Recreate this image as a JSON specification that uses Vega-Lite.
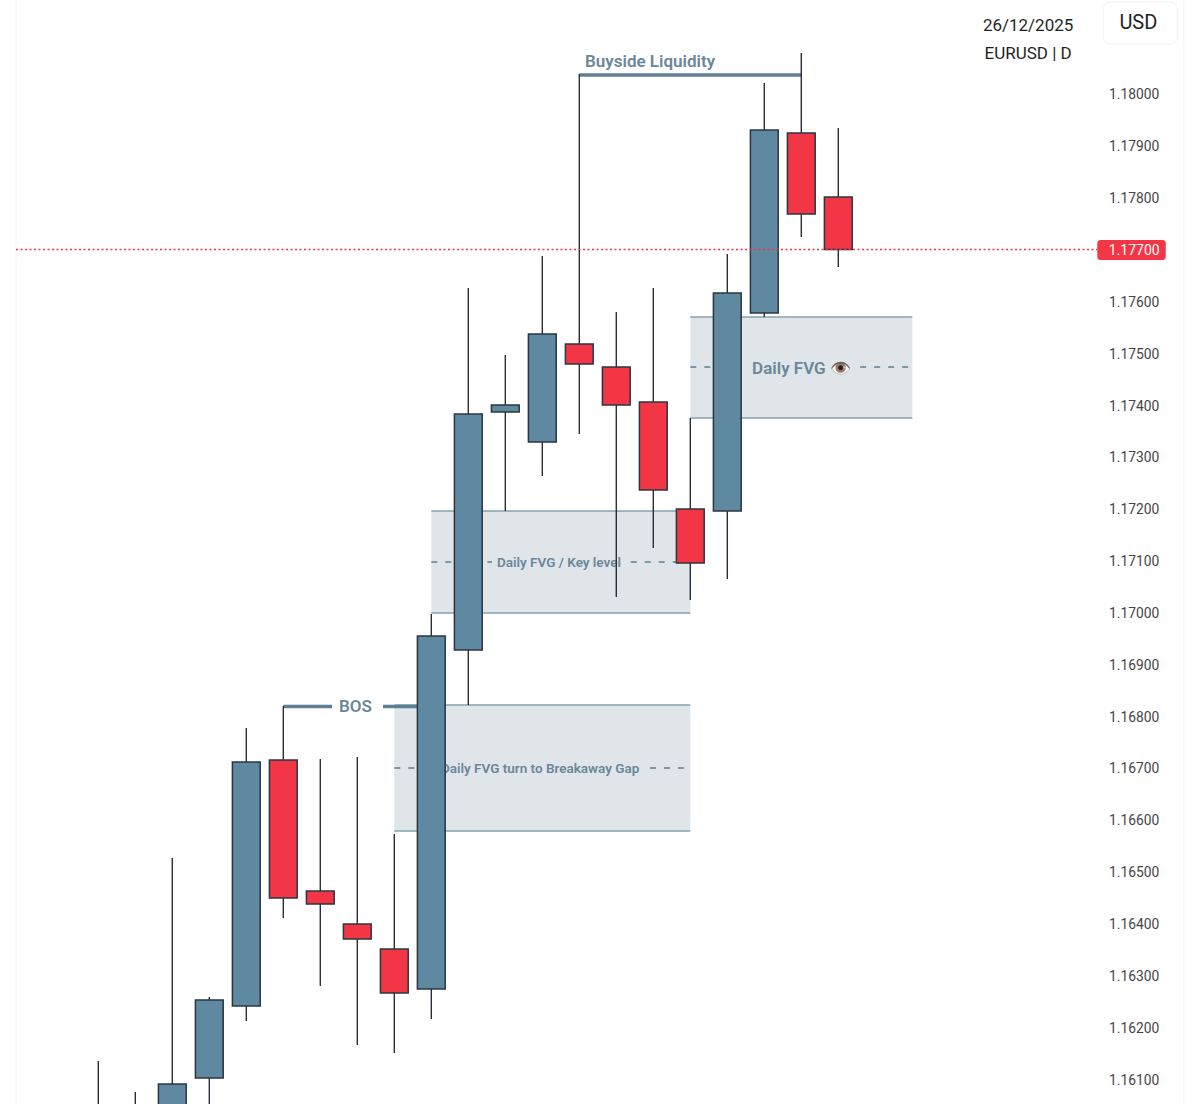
{
"$schema":"https://vega.github.io/schema/vega-lite/v6.json",
"width":1200,"height":1104,"padding":0,"autosize":"none","background":"#ffffff",
"config":{"view":{"stroke":null},"font":"Roboto"},
"datasets":{
"candles":[
{"i":0,"open":1.1604,"close":1.1600,"high":1.161347,"low":1.1600,"dir":"down"},
{"i":1,"open":1.1604,"close":1.1600,"high":1.160749,"low":1.1600,"dir":"down"},
{"i":2,"open":1.1600,"close":1.160904,"high":1.165263,"low":1.1600,"dir":"up"},
{"i":3,"open":1.161019,"close":1.162524,"high":1.162582,"low":1.1600,"dir":"up"},
{"i":4,"open":1.162408,"close":1.167115,"high":1.16777,"low":1.162119,"dir":"up"},
{"i":5,"open":1.167153,"close":1.164491,"high":1.168195,"low":1.164106,"dir":"down"},
{"i":6,"open":1.164626,"close":1.164376,"high":1.167173,"low":1.162794,"dir":"down"},
{"i":7,"open":1.16399,"close":1.1637,"high":1.167211,"low":1.161656,"dir":"down"},
{"i":8,"open":1.163508,"close":1.162659,"high":1.165726,"low":1.161501,"dir":"down"},
{"i":9,"open":1.162736,"close":1.169545,"high":1.16997,"low":1.162157,"dir":"up"},
{"i":10,"open":1.169275,"close":1.173827,"high":1.176258,"low":1.168214,"dir":"up"},
{"i":11,"open":1.173866,"close":1.174001,"high":1.174965,"low":1.171956,"dir":"up"},
{"i":12,"open":1.173287,"close":1.175371,"high":1.176875,"low":1.172631,"dir":"up"},
{"i":13,"open":1.175178,"close":1.174792,"high":1.180386,"low":1.173442,"dir":"down"},
{"i":14,"open":1.174734,"close":1.174001,"high":1.175795,"low":1.170297,"dir":"down"},
{"i":15,"open":1.174059,"close":1.172361,"high":1.176258,"low":1.171243,"dir":"down"},
{"i":16,"open":1.171995,"close":1.170953,"high":1.17375,"low":1.17024,"dir":"down"},
{"i":17,"open":1.171956,"close":1.176161,"high":1.176914,"low":1.170645,"dir":"up"},
{"i":18,"open":1.175776,"close":1.179306,"high":1.180212,"low":1.175698,"dir":"up"},
{"i":19,"open":1.179248,"close":1.177685,"high":1.180791,"low":1.177242,"dir":"down"},
{"i":20,"open":1.178013,"close":1.177,"high":1.179344,"low":1.176663,"dir":"down"}
],
"zones":[
{"i":8,"i2":16,"price":1.168214,"price2":1.165784},
{"i":9,"i2":16,"price":1.171956,"price2":1.169989},
{"i":16,"i2":22,"price":1.175698,"price2":1.17375}
],
"zoneEdges":[
{"i":8,"i2":16,"price":1.168214},{"i":8,"i2":16,"price":1.165784},
{"i":9,"i2":16,"price":1.171956},{"i":9,"i2":16,"price":1.169989},
{"i":16,"i2":22,"price":1.175698},{"i":16,"i2":22,"price":1.17375}
],
"midlines":[
{"i":8,"i2":9.13,"price":1.166999},{"i":14.91,"i2":16,"price":1.166999},
{"i":9,"i2":10.64,"price":1.170973},{"i":14.39,"i2":16,"price":1.170973},
{"i":16,"i2":17.48,"price":1.174734},{"i":20.59,"i2":22,"price":1.174734}
],
"callouts":[
{"i":13,"i2":19,"price":1.180367},
{"i":5,"i2":6.316,"price":1.168185},
{"i":7.695,"i2":9,"price":1.168185}
],
"bigLabels":[
{"i":13.155,"price":1.180637,"text":"Buyside Liquidity"},
{"i":6.505,"price":1.168195,"text":"BOS"},
{"i":17.67,"price":1.174714,"text":"Daily FVG 👁️"}
],
"smallLabels":[
{"i":9.26,"price":1.166999,"text":"Daily FVG turn to Breakaway Gap"},
{"i":10.775,"price":1.170973,"text":"Daily FVG / Key level"}
],
"header":[
{"i":25.13,"price":1.181312,"text":"26/12/2025"},
{"i":25.13,"price":1.180772,"text":"EURUSD | D"}
],
"frame":[
{"i":-2.224,"price":1.160518,"price2":1.181813},
{"i":29.34,"price":1.160518,"price2":1.181813}
],
"lastPrice":[{"i":-2.224,"i2":27,"price":1.177}]
},
"encoding":{
"x":{"field":"i","type":"quantitative","axis":null,"scale":{"domain":[-2.6568,29.7757],"nice":false,"zero":false,"padding":0}},
"y":{"field":"price","type":"quantitative","scale":{"domain":[1.160518,1.181813],"nice":false,"zero":false,"padding":0},
"axis":{"orient":"right","offset":-103,"title":null,"domain":false,"ticks":false,"grid":false,"labelPadding":11.5,"labelOffset":1,"labelAlign":"left","labelFont":"Roboto","labelFontSize":13.8,"labelColor":"#444444","format":".5f","values":[1.161,1.162,1.163,1.164,1.165,1.166,1.167,1.168,1.169,1.17,1.171,1.172,1.173,1.174,1.175,1.176,1.177,1.178,1.179,1.18]}}
},
"layer":[
{"data":{"name":"frame"},"mark":{"type":"rule","color":"#f4f4f4","strokeWidth":1},"encoding":{"y2":{"field":"price2"}}},
{"data":{"name":"zones"},"mark":{"type":"rect","color":"#dfe5e9"},"encoding":{"x2":{"field":"i2"},"y2":{"field":"price2"}}},
{"data":{"name":"zoneEdges"},"mark":{"type":"rule","color":"#84a0b1","strokeWidth":1.5},"encoding":{"x2":{"field":"i2"}}},
{"data":{"name":"midlines"},"mark":{"type":"rule","color":"#5f7f93","strokeWidth":1.3,"strokeDash":[6,8]},"encoding":{"x2":{"field":"i2"}}},
{"data":{"name":"smallLabels"},"mark":{"type":"text","align":"left","baseline":"middle","dy":0.7,"font":"Roboto","fontWeight":600,"fontSize":13.5,"color":"#6a8799"},"encoding":{"text":{"field":"text"}}},
{"data":{"name":"bigLabels"},"mark":{"type":"text","align":"left","baseline":"middle","dy":1,"font":"Roboto","fontWeight":600,"fontSize":17,"color":"#6a8799"},"encoding":{"text":{"field":"text"}}},
{"data":{"name":"callouts"},"mark":{"type":"rule","color":"#5f7f93","strokeWidth":3.5},"encoding":{"x2":{"field":"i2"}}},
{"data":{"name":"candles"},"mark":{"type":"rule","color":"#2a2e39","strokeWidth":1.4,"clip":true},
 "encoding":{"y":{"field":"high","type":"quantitative","scale":{"domain":[1.160518,1.181813],"nice":false,"zero":false,"padding":0},
"axis":{"orient":"right","offset":-103,"title":null,"domain":false,"ticks":false,"grid":false,"labelPadding":11.5,"labelOffset":1,"labelAlign":"left","labelFont":"Roboto","labelFontSize":13.8,"labelColor":"#444444","format":".5f","values":[1.161,1.162,1.163,1.164,1.165,1.166,1.167,1.168,1.169,1.17,1.171,1.172,1.173,1.174,1.175,1.176,1.177,1.178,1.179,1.18]}},"y2":{"field":"low"}}},
{"data":{"name":"candles"},"mark":{"type":"bar","width":27.8,"stroke":"#2b3640","strokeWidth":1.5,"clip":true},
 "encoding":{"y":{"field":"open","type":"quantitative","scale":{"domain":[1.160518,1.181813],"nice":false,"zero":false,"padding":0},
"axis":{"orient":"right","offset":-103,"title":null,"domain":false,"ticks":false,"grid":false,"labelPadding":11.5,"labelOffset":1,"labelAlign":"left","labelFont":"Roboto","labelFontSize":13.8,"labelColor":"#444444","format":".5f","values":[1.161,1.162,1.163,1.164,1.165,1.166,1.167,1.168,1.169,1.17,1.171,1.172,1.173,1.174,1.175,1.176,1.177,1.178,1.179,1.18]}},"y2":{"field":"close"},
 "fill":{"field":"dir","type":"nominal","legend":null,"scale":{"domain":["up","down"],"range":["#5f88a1","#f23645"]}}}},
{"data":{"name":"lastPrice"},"mark":{"type":"rule","color":"#f23645","strokeWidth":1.6,"strokeDash":[2,2.5]},"encoding":{"x2":{"field":"i2"}}},
{"data":{"values":[{"i":27,"i2":28.85,"price":1.177184,"price2":1.176798}]},"mark":{"type":"rect","color":"#f23645","cornerRadius":3},"encoding":{"x2":{"field":"i2"},"y2":{"field":"price2"}}},
{"data":{"values":[{"i":27.31,"price":1.177,"text":"1.17700"}]},"mark":{"type":"text","align":"left","baseline":"middle","dy":1,"font":"Roboto","fontSize":14,"color":"#ffffff"},"encoding":{"text":{"field":"text"}}},
{"data":{"name":"header"},"mark":{"type":"text","align":"center","baseline":"middle","font":"Roboto","fontSize":17,"color":"#1f1f1f"},"encoding":{"text":{"field":"text"}}},
{"data":{"values":[{"i":27.16,"i2":29.16,"price":1.181775,"price2":1.180964}]},"mark":{"type":"rect","fill":"#ffffff","stroke":"#f3f3f3","strokeWidth":1,"cornerRadius":7},"encoding":{"x2":{"field":"i2"},"y2":{"field":"price2"}}},
{"data":{"values":[{"i":28.11,"price":1.181389,"text":"USD"}]},"mark":{"type":"text","align":"center","baseline":"middle","dy":1.5,"font":"Roboto","fontSize":20,"color":"#1f1f1f"},"encoding":{"text":{"field":"text"}}}
]
}
